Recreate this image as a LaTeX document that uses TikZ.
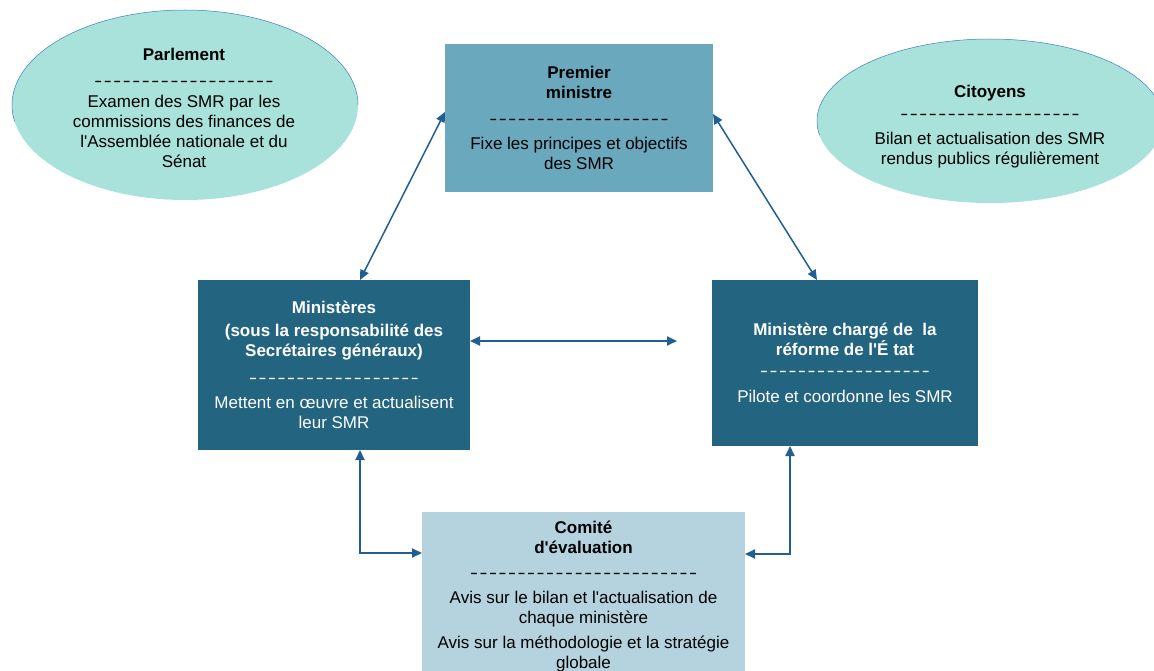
\documentclass[tikz,border=0pt]{standalone}
\usepackage{fontspec}
\newfontfamily\lib{Liberation Sans}
\usetikzlibrary{shapes.geometric,arrows.meta}
\definecolor{ellfill}{HTML}{A8E2DA}
\definecolor{ellline}{HTML}{3D7FC0}
\definecolor{pmfill}{HTML}{6AA8BE}
\definecolor{darkfill}{HTML}{236480}
\definecolor{comfill}{HTML}{B4D3DE}
\definecolor{arrc}{HTML}{1F5F91}
\newcommand\dashrow[1]{{\addfontfeature{FakeStretch=1.4,LetterSpace=9.4}#1}}
\begin{document}
\begin{tikzpicture}[x=1pt,y=-1pt,
  txt/.style={font=\lib\fontsize{17}{20}\selectfont, align=center, inner sep=0pt, outer sep=0pt},
  ell/.style={txt, ellipse, fill=ellfill},
  box/.style={txt, rectangle},
  arr/.style={draw=arrc, line width=2pt, {Triangle[length=10pt,width=9pt]}-{Triangle[length=10pt,width=9pt]}},
  diag/.style={arr, line width=1.5pt}]
\useasboundingbox (0,0) rectangle (1154,671);
\clip (0,0) rectangle (1154,671);
\fill[white] (0,0) rectangle (1154,671);

% ellipses
\node[ell, minimum width=346pt, minimum height=190pt] (parl) at (185,105) {};
\draw[ellline, line width=0.5pt] (parl.center) ++(173,0) arc[start angle=0, end angle=-190, x radius=173, y radius=95];
\node[txt] at (184,108) {\textbf{Parlement}\\[6pt]\dashrow{-------------------}\\[1pt]Examen des SMR par les\\commissions des finances de\\l'Assemblée nationale et du\\Sénat};

\node[ell, minimum width=346pt, minimum height=164pt] (cit) at (990,121) {};
\draw[ellline, line width=0.5pt] (cit.center) ++(173,0) arc[start angle=0, end angle=-190, x radius=173, y radius=82];
\node[txt] at (990,126.5) {\textbf{Citoyens}\\[2pt]\dashrow{-------------------}\\[5pt]Bilan et actualisation des SMR\\rendus publics régulièrement};

% boxes
\node[box, fill=pmfill, minimum width=268pt, minimum height=148pt] (pm) at (579,118)
  {\textbf{Premier}\\\textbf{ministre}\\[6pt]\dashrow{-------------------}\\[5pt]Fixe les principes et objectifs\\des SMR};

\node[box, fill=darkfill, text=white, minimum width=272pt, minimum height=170pt] (min) at (334,365)
  {\textbf{Ministères}\\[3pt]\textbf{(sous la responsabilité des}\\\textbf{Secrétaires généraux)}\\[7pt]\dashrow{------------------}\\[5pt]Mettent en œuvre et actualisent\\leur SMR};

\node[box, fill=darkfill, text=white, minimum width=266pt, minimum height=166pt] (mre) at (845,363)
  {\textbf{Ministère chargé de\ \ la}\\\textbf{réforme de l'É tat}\\[1pt]\dashrow{------------------}\\[6pt]Pilote et coordonne les SMR};

\node[box, fill=comfill, minimum width=323pt, minimum height=169pt] (com) at (583.5,596.5)
  {\textbf{Comité}\\\textbf{d'évaluation}\\[5pt]\dashrow{------------------------}\\[5pt]Avis sur le bilan et l'actualisation de\\chaque ministère\\[5pt]Avis sur la méthodologie et la stratégie\\globale};

% connectors
\coordinate (free) at (677,341);
\draw[diag] ([yshift=6pt]pm.west) -- ([xshift=26pt]min.north);
\draw[diag] ([yshift=4pt]pm.east) -- ([xshift=-28pt]mre.north);
\draw[arr] ([yshift=24pt]min.east) -- (free);
\draw[arr] ([xshift=26pt]min.south) |- ([yshift=43.5pt]com.west);
\draw[arr] ([xshift=-55pt]mre.south) |- ([yshift=42.5pt]com.east);
\end{tikzpicture}
\end{document}
